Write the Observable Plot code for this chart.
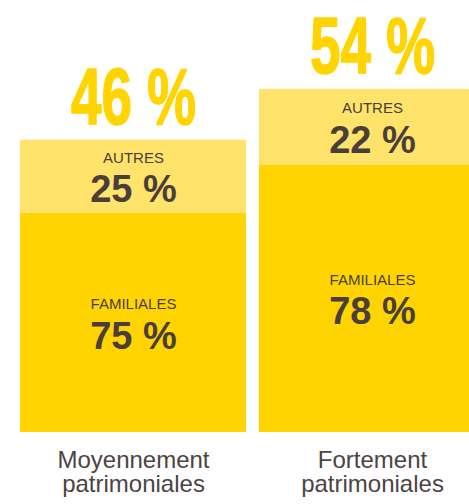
<!DOCTYPE html>
<html>
<head>
<meta charset="utf-8">
<script src="https://cdn.jsdelivr.net/npm/d3@7"></script>
<script src="https://cdn.jsdelivr.net/npm/@observablehq/plot@0.6"></script>
<style>
  html, body { margin: 0; padding: 0; background: #fff; overflow: hidden; }
  #chart { width: 469px; height: 504px; overflow: hidden; }
  #chart svg { max-width: none !important; }
</style>
</head>
<body>
<div id="chart"></div>
<script>
// Data
const groups = ["Moyennement\npatrimoniales", "Fortement\npatrimoniales"];
const totals = [46, 54];
const segments = ["FAMILIALES", "AUTRES"];
const familialesShare = [75, 78];
const autresShare = [25, 22];

const shares = { FAMILIALES: familialesShare, AUTRES: autresShare };
const rows = [];
segments.forEach(seg => {
  groups.forEach((g, i) => {
    rows.push({ group: g, segment: seg, share: shares[seg][i], value: totals[i] * shares[seg][i] / 100 });
  });
});
const totalRows = groups.map((g, i) => ({ group: g, total: totals[i] }));

const ink = "#4a3e3b";
const chart = Plot.plot({
  width: 490,
  height: 504,
  marginTop: 0,
  marginBottom: 72,
  marginLeft: 19,
  marginRight: 4,
  style: { background: "#fff", fontFamily: "Liberation Sans, Arial, sans-serif", maxWidth: "none" },
  x: { domain: groups, paddingInner: 0.054, paddingOuter: 0, label: null },
  y: { domain: [0, 68], axis: null },
  color: { domain: segments, range: ["#ffd400", "#ffe36a"] },
  marks: [
    Plot.barY(rows, Plot.stackY({ x: "group", y: "value", z: "segment", fill: "segment" })),
    Plot.text(rows, Plot.stackY({ x: "group", y: "value", z: "segment", text: "segment", dy: -18.5, fontSize: 15, fill: ink })),
    Plot.text(rows, Plot.stackY({ x: "group", y: "value", z: "segment", text: d => `${d.share} %`, dy: 13.5, fontSize: 38, fontWeight: "bold", fill: ink })),
    Plot.text(totalRows, { x: "group", y: "total", text: d => `${d.total} %`, lineAnchor: "bottom", dy: -16.5, fontSize: 80, fontWeight: "bold", fontFamily: "Liberation Sans Narrow, Arial Narrow, sans-serif", fill: "#ffd400", stroke: "#ffd400", strokeWidth: 1.5, className: "big" }),
    Plot.axisX({ tickSize: 0, tickPadding: 18, fontSize: 24, lineHeight: 1.02, fill: "#4d4343", label: null })
  ]
});
document.getElementById("chart").appendChild(chart);
d3.select(chart).selectAll("g.big text").attr("textLength", 125).attr("lengthAdjust", "spacingAndGlyphs");
</script>
</body>
</html>
